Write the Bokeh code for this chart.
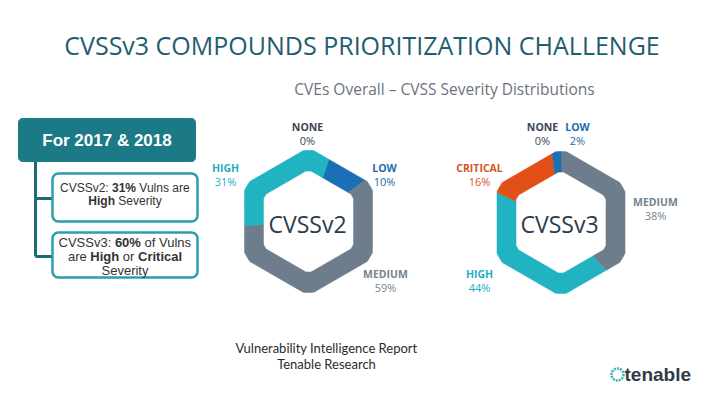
import numpy as np
from bokeh.plotting import figure
from bokeh.models import Range1d
from bokeh.core.properties import value
from bokeh.embed import file_html
from bokeh.resources import INLINE

# ---------------- data ----------------
v2_categories = ["NONE", "LOW", "MEDIUM", "HIGH"]
v2_values = [0, 10, 59, 31]
v3_categories = ["MEDIUM", "HIGH", "CRITICAL", "NONE", "LOW"]
v3_values = [38, 44, 16, 0, 2]

title_text = "CVSSv3 COMPOUNDS PRIORITIZATION CHALLENGE"
subtitle_text = "CVEs Overall \u2013 CVSS Severity Distributions"
source_lines = ["Vulnerability Intelligence Report", "Tenable Research"]

# ---------------- styles ----------------
ring_colors = {"NONE": "#3e4a57", "LOW": "#1b6fb5", "MEDIUM": "#6e7d8b",
               "HIGH": "#22b3c3", "CRITICAL": "#e2501a"}
label_colors = {"NONE": "#3b4654", "LOW": "#1a6db0", "MEDIUM": "#758391",
                "HIGH": "#22adbf", "CRITICAL": "#d4531f"}

p = figure(width=704, height=389, output_backend="svg", toolbar_location=None,
           x_range=Range1d(0, 704), y_range=Range1d(389, 0),
           x_axis_type=None, y_axis_type=None, min_border=0,
           min_border_left=0, min_border_right=0, min_border_top=0, min_border_bottom=0)
p.outline_line_color = None
p.grid.visible = False
p.background_fill_color = "white"
p.border_fill_color = "white"


def hex_radius(th_deg, apothem, rc):
    n = 30 + 60 * np.round((th_deg - 30) / 60.0)
    r = apothem / np.cos(np.radians(th_deg - n))
    return np.minimum(r, rc)


def ring(cx, cy, cats, vals, start):
    total = float(sum(vals))
    a = start
    xs, ys, cols = [], [], []
    for c, v in zip(cats, vals):
        span = 360.0 * v / total
        if span > 0:
            th = np.linspace(a, a + span, max(2, int(span / 0.25) + 1))
            ro = hex_radius(th, 64, 71)
            ri = hex_radius(th, 45, 50.5)
            t = np.radians(th)
            xo = cx + ro * np.sin(t)
            yo = cy - ro * np.cos(t)
            xi = cx + ri * np.sin(t)
            yi = cy - ri * np.cos(t)
            xs.append(list(xo) + list(xi[::-1]))
            ys.append(list(yo) + list(yi[::-1]))
            cols.append(ring_colors[c])
        a += span
    p.patches(xs=xs, ys=ys, fill_color=cols, line_color=cols, line_width=0.6)


ring(308, 221, v2_categories, v2_values, 18)
ring(560.5, 222, v3_categories, v3_values, 0)

# center labels
p.text(x=[307, 559], y=[223, 223], text=["CVSSv2", "CVSSv3"],
       text_font=value("Open Sans"), text_font_size=value("23px"),
       text_color="#2c3b4a", text_align="center", text_baseline="middle")

# category labels
v2_label_pos = {"NONE": (307, 126), "HIGH": (225, 167), "LOW": (384, 167), "MEDIUM": (385, 273)}
v3_label_pos = {"NONE": (542, 126), "LOW": (577, 126), "CRITICAL": (479, 167),
                "MEDIUM": (655, 201), "HIGH": (479, 273)}
for cats, vals, pos in [(v2_categories, v2_values, v2_label_pos),
                        (v3_categories, v3_values, v3_label_pos)]:
    for c, v in zip(cats, vals):
        x, y = pos[c]
        p.text(x=[x], y=[y], text=[c], text_font=value("Open Sans"),
               text_font_size=value("10.5px"), text_font_style="bold",
               text_color=label_colors[c], text_align="center", text_baseline="middle")
        p.text(x=[x], y=[y + 13.5], text=["%d%%" % v], text_font=value("Open Sans"),
               text_font_size=value("11px"),
               text_color=label_colors[c], text_align="center", text_baseline="middle")

# titles
p.text(x=[361.5], y=[44], text=[title_text], text_font=value("Open Sans"),
       text_font_size=value("25px"), text_color="#1f5d71",
       text_align="center", text_baseline="middle")
p.text(x=[444], y=[88], text=[subtitle_text], text_font=value("Open Sans"),
       text_font_size=value("15.5px"), text_color="#6a737d",
       text_align="center", text_baseline="middle")
p.text(x=[326, 326], y=[347, 363], text=source_lines, text_font=value("Lato"),
       text_font_size=value("13px"), text_color="#2b2b2b",
       text_align="center", text_baseline="middle")


# ---------------- left callouts ----------------
def rrect(x0, y0, x1, y1, r, n=8):
    xs, ys = [], []
    for ccx, ccy, a0, a1 in [(x1 - r, y0 + r, -90, 0), (x1 - r, y1 - r, 0, 90),
                             (x0 + r, y1 - r, 90, 180), (x0 + r, y0 + r, 180, 270)]:
        for a in np.linspace(a0, a1, n):
            xs.append(ccx + r * np.cos(np.radians(a)))
            ys.append(ccy + r * np.sin(np.radians(a)))
    return xs, ys


bx, by = rrect(18, 118, 195, 161, 4)
p.patch(bx, by, fill_color="#1c7a86", line_color="#1c7a86")
p.text(x=[106.5], y=[140], text=["For 2017 & 2018"], text_font=value("Liberation Sans"),
       text_font_size=value("17px"), text_font_style="bold", text_color="white",
       text_align="center", text_baseline="middle")

p.line([35, 35], [161, 256], line_color="#1b6c78", line_width=3)
p.line([35, 52], [198, 198], line_color="#1b6c78", line_width=3)
p.line([35, 52], [256, 256], line_color="#1b6c78", line_width=3)

for (y0, y1) in [(173, 221), (232, 277)]:
    xs, ys = rrect(52, y0, 197, y1, 6)
    p.patch(xs, ys, fill_color="white", line_color="#2b9faa", line_width=2.5)

W_REG = {' ': 278, 'C': 722, 'V': 667, 'S': 667, 'v': 500, '2': 556, '3': 556, ':': 278,
         'u': 556, 'l': 222, 'n': 556, 's': 500, 'a': 556, 'r': 333, 'e': 556, 'H': 722,
         'i': 222, 'g': 556, 'h': 556, 'y': 500, 't': 278, 'o': 556, 'f': 278, 'c': 500}
W_BOLD = {' ': 278, '3': 556, '1': 556, '%': 889, '6': 556, '0': 556, 'H': 722, 'i': 278,
          'g': 611, 'h': 611, 'C': 722, 'r': 389, 't': 333, 'c': 556, 'a': 556, 'l': 278}


def run_width(s, bold, size):
    tab = W_BOLD if bold else W_REG
    return sum(tab.get(ch, 556) for ch in s) * size / 1000.0


def rich_line(runs, cx, y, size):
    total = sum(run_width(s, b, size) for s, b in runs)
    x = cx - total / 2.0
    for s, b in runs:
        lead = len(s) - len(s.lstrip(' '))
        xs = x + run_width(' ' * lead, b, size)
        p.text(x=[xs], y=[y], text=[s.strip(' ')], text_font=value("Liberation Sans"),
               text_font_size=value("%gpx" % size), text_font_style="bold" if b else "normal",
               text_color="#333333", text_align="left", text_baseline="middle")
        x += run_width(s, b, size)


rich_line([("CVSSv2: ", False), ("31%", True), (" Vulns are", False)], 124.5, 187.5, 12)
rich_line([("High", True), (" Severity", False)], 124.5, 200, 12)
rich_line([("CVSSv3: ", False), ("60%", True), (" of Vulns", False)], 124.5, 242, 13)
rich_line([("are ", False), ("High", True), (" or ", False), ("Critical", True)], 124.5, 256, 13)
rich_line([("Severity", False)], 124.5, 269.5, 13)

# ---------------- logo ----------------
p.circle(x=[617], y=[374], radius=6, fill_color=None, line_color="#35b5b8",
         line_width=2.5, line_dash="2 1")
p.text(x=[624], y=[374], text=["tenable"], text_font=value("Liberation Sans"),
       text_font_size=value("19px"), text_font_style="bold", text_color="#2e3b48",
       text_align="left", text_baseline="middle")

open("out.html", "w").write(file_html(p, INLINE))
